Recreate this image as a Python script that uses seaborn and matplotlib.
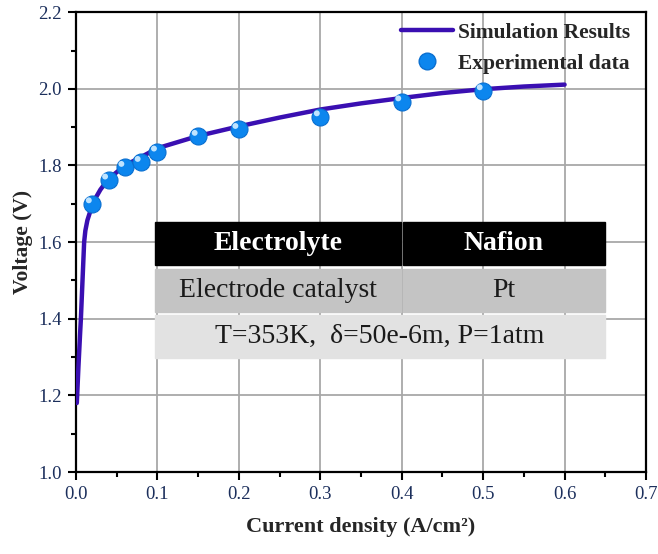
import numpy as np
import pandas as pd
import matplotlib
matplotlib.use("Agg")
import matplotlib.pyplot as plt
import matplotlib.transforms as mtransforms
from matplotlib.patches import Rectangle
from matplotlib.lines import Line2D
import seaborn as sns

# ---------------------------------------------------------------------------
# Data
# ---------------------------------------------------------------------------
sim_current = [0.001, 0.003, 0.005, 0.006, 0.008, 0.009, 0.010, 0.0115, 0.014,
               0.017, 0.02, 0.03, 0.04, 0.06, 0.08, 0.10, 0.15, 0.20, 0.25,
               0.30, 0.35, 0.40, 0.45, 0.50, 0.55, 0.60]
sim_voltage = [1.18, 1.275, 1.36, 1.40, 1.50, 1.55, 1.60, 1.63, 1.657,
               1.677, 1.70, 1.737, 1.765, 1.80, 1.822, 1.845, 1.877, 1.902, 1.925,
               1.946, 1.962, 1.976, 1.989, 1.999, 2.006, 2.011]

exp_current = [0.02, 0.04, 0.06, 0.08, 0.10, 0.15, 0.20, 0.30, 0.40, 0.50]
exp_voltage = [1.700, 1.762, 1.795, 1.808, 1.835, 1.876, 1.894, 1.927, 1.966, 1.995]

table_header = ["Electrolyte", "Nafion"]
table_row = ["Electrode catalyst", "Pt"]
table_footer = "T=353K,  \u03b4=50e-6m, P=1atm"

sim_df = pd.DataFrame({"current": sim_current, "voltage": sim_voltage})
exp_df = pd.DataFrame({"current": exp_current, "voltage": exp_voltage})

# ---------------------------------------------------------------------------
# Style
# ---------------------------------------------------------------------------
sns.set_theme(style="ticks")
plt.rcParams["font.family"] = ["Liberation Serif", "DejaVu Serif"]

LINE_C = "#3a0fb2"
DOT_C = "#0c86ee"
TICK_C = "#1c2f5c"

fig = plt.figure(figsize=(6.58, 5.54), dpi=100)
ax = fig.add_axes([0.1155, 0.148, 0.8663, 0.830])

ax.grid(True, which="major", color="#a8a8a8", linewidth=1.3, zorder=0)
ax.set_axisbelow(True)

sns.lineplot(data=sim_df, x="current", y="voltage", ax=ax, color=LINE_C,
             linewidth=3.2, zorder=4, sort=False)
sns.scatterplot(data=exp_df, x="current", y="voltage", ax=ax, s=150,
                color=DOT_C, edgecolor="#0a6fd0", linewidth=0.8, zorder=5)
# small highlight so the dots look like spheres
hl = mtransforms.offset_copy(ax.transData, fig=fig, x=-2.5, y=2.5, units="points")
ax.scatter(exp_current, exp_voltage, s=18, color="#bfe4ff", edgecolor="none",
           zorder=6, transform=hl)

ax.set_xlim(0, 0.7)
ax.set_ylim(1.0, 2.2)
ax.set_xticks(np.arange(0, 0.71, 0.1))
ax.set_yticks(np.arange(1.0, 2.21, 0.2))
ax.set_xticks(np.arange(0.05, 0.7, 0.1), minor=True)
ax.set_yticks(np.arange(1.1, 2.2, 0.2), minor=True)
ax.set_xticklabels([f"{v:.1f}" for v in np.arange(0, 0.71, 0.1)])
ax.set_yticklabels([f"{v:.1f}" for v in np.arange(1.0, 2.21, 0.2)])
ax.tick_params(which="major", direction="out", length=6, width=1.5,
               labelsize=13.5, labelcolor=TICK_C, color="black", pad=4)
ax.tick_params(which="minor", direction="out", length=3.5, width=1.5,
               color="black")
for sp in ax.spines.values():
    sp.set_linewidth(1.6)
    sp.set_color("black")

ax.set_xlabel("Current density (A/cm\u00b2)", fontsize=16, fontweight="bold",
              labelpad=10)
ax.set_ylabel("Voltage (V)", fontsize=15.5, fontweight="bold", labelpad=4)

# ---------------------------------------------------------------------------
# Legend
# ---------------------------------------------------------------------------
handles = [
    Line2D([], [], color=LINE_C, linewidth=3.2),
    Line2D([], [], marker="o", linestyle="none", markersize=12,
           markerfacecolor=DOT_C, markeredgecolor="#0a6fd0"),
]
ax.legend(handles, ["Simulation Results", "Experimental data"],
          loc="upper right", bbox_to_anchor=(0.995, 1.005), frameon=False,
          prop={"weight": "bold", "size": 15.5}, handlelength=2.4,
          handletextpad=0.25, labelspacing=0.5, borderaxespad=0.2)

# ---------------------------------------------------------------------------
# Parameter table drawn inside the axes
# ---------------------------------------------------------------------------
x0, xm, x1 = 0.097, 0.400, 0.650
rows = [(1.541, 1.652, "black"), (1.417, 1.529, "#c4c4c4"), (1.297, 1.411, "#e2e2e2")]
gap = 0.0015
(y0a, y1a, ca), (y0b, y1b, cb), (y0c, y1c, cc) = rows
ax.add_patch(Rectangle((x0, y0a), xm - x0 - gap, y1a - y0a, color=ca, zorder=3))
ax.add_patch(Rectangle((xm + gap, y0a), x1 - xm - gap, y1a - y0a, color=ca, zorder=3))
ax.add_patch(Rectangle((x0, y0b), xm - x0 - gap, y1b - y0b, color=cb, zorder=3))
ax.add_patch(Rectangle((xm + gap, y0b), x1 - xm - gap, y1b - y0b, color=cb, zorder=3))
ax.add_patch(Rectangle((x0, y0c), x1 - x0, y1c - y0c, color=cc, zorder=3))

TFS = 20
ax.text((x0 + xm) / 2, (y0a + y1a) / 2, table_header[0], color="white",
        fontsize=TFS, fontweight="bold", ha="center", va="center", zorder=4)
ax.text((xm + x1) / 2, (y0a + y1a) / 2, table_header[1], color="white",
        fontsize=TFS, fontweight="bold", ha="center", va="center", zorder=4)
ax.text((x0 + xm) / 2, (y0b + y1b) / 2, table_row[0], color="#1a1a1a",
        fontsize=TFS, ha="center", va="center", zorder=4)
ax.text((xm + x1) / 2, (y0b + y1b) / 2, table_row[1], color="#1a1a1a",
        fontsize=TFS, ha="center", va="center", zorder=4)
ax.text((x0 + x1) / 2, (y0c + y1c) / 2, table_footer, color="#1a1a1a",
        fontsize=TFS, ha="center", va="center", zorder=4)

fig.savefig("out.png", dpi=100)
